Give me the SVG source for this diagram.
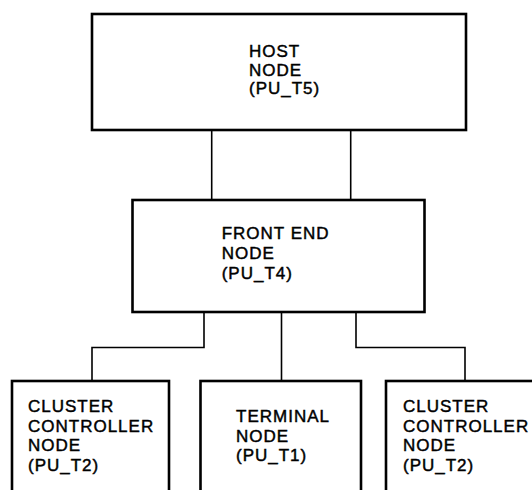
<svg xmlns="http://www.w3.org/2000/svg" width="532" height="490" viewBox="0 0 532 490">
<style>
.box{fill:#fff;stroke:#000;stroke-width:2.6}
.ln{fill:none;stroke:#000;stroke-width:1.6}
text{font-family:"Liberation Sans",Arial,sans-serif;font-size:17px;letter-spacing:1px;fill:#000;stroke:#000;stroke-width:0.45}
</style>
<rect width="532" height="490" fill="#fff"/>
<g id="connectors">
<line class="ln" x1="211.7" y1="130" x2="211.7" y2="200"/>
<line class="ln" x1="350.7" y1="130" x2="350.7" y2="200"/>
<polyline class="ln" points="204,312 204,347.5 92,347.5 92,381"/>
<line class="ln" x1="281.5" y1="312" x2="281.5" y2="381"/>
<polyline class="ln" points="356,312 356,347.5 465,347.5 465,381"/>
</g>
<g id="host">
<rect class="box" x="92" y="14" width="374" height="116"/>
<text x="249" y="57">HOST</text>
<text x="249" y="75.5">NODE</text>
<text x="249" y="94">(PU_T5)</text>
</g>
<g id="frontend">
<rect class="box" x="132.5" y="200" width="292" height="112"/>
<text x="221.7" y="239.3">FRONT END</text>
<text x="221.7" y="259.3">NODE</text>
<text x="221.7" y="279">(PU_T4)</text>
</g>
<g id="cluster1">
<rect class="box" x="12" y="381" width="157" height="130"/>
<text x="28" y="412.3">CLUSTER</text>
<text x="28" y="431.7">CONTROLLER</text>
<text x="28" y="451">NODE</text>
<text x="28" y="470.5">(PU_T2)</text>
</g>
<g id="terminal">
<rect class="box" x="200.5" y="381" width="160.5" height="130"/>
<text x="236" y="421.7">TERMINAL</text>
<text x="236" y="441.5">NODE</text>
<text x="236" y="461">(PU_T1)</text>
</g>
<g id="cluster2">
<rect class="box" x="386" y="381" width="160" height="130"/>
<text x="403" y="412.3">CLUSTER</text>
<text x="403" y="431.7">CONTROLLER</text>
<text x="403" y="451">NODE</text>
<text x="403" y="470.5">(PU_T2)</text>
</g>
</svg>
